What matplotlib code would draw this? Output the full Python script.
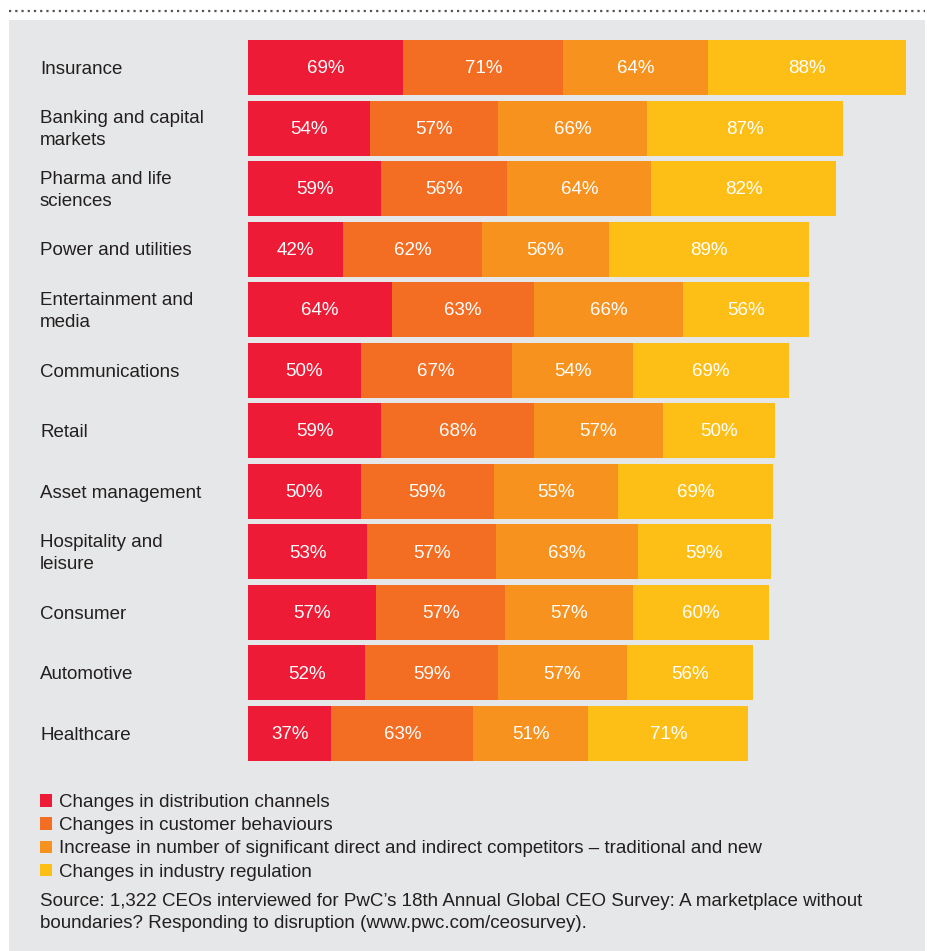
import numpy as np
import matplotlib.pyplot as plt
from matplotlib import transforms
from matplotlib.lines import Line2D
from matplotlib.patches import Rectangle

plt.rcParams['font.family'] = ['Liberation Sans', 'DejaVu Sans']

industries = ["Insurance", "Banking and capital\nmarkets", "Pharma and life\nsciences",
              "Power and utilities", "Entertainment and\nmedia", "Communications",
              "Retail", "Asset management", "Hospitality and\nleisure", "Consumer",
              "Automotive", "Healthcare"]
distribution = [69, 54, 59, 42, 64, 50, 59, 50, 53, 57, 52, 37]
customer = [71, 57, 56, 62, 63, 67, 68, 59, 57, 57, 59, 63]
competitors = [64, 66, 64, 56, 66, 54, 57, 55, 63, 57, 57, 51]
regulation = [88, 87, 82, 89, 56, 69, 50, 69, 59, 60, 56, 71]

series_names = ["Changes in distribution channels",
                "Changes in customer behaviours",
                "Increase in number of significant direct and indirect competitors \u2013 traditional and new",
                "Changes in industry regulation"]
colors = ["#ED1B35", "#F36E23", "#F7921E", "#FDBE15"]

W, H = 927, 951
FS = 13.5
fig = plt.figure(figsize=(W / 100, H / 100), dpi=100)
fig.patch.set_facecolor("white")

# grey panel and dotted rule on top
fig.patches.append(Rectangle((9 / W, 0), 916 / W, 1 - 20 / H, transform=fig.transFigure,
                             facecolor="#E6E7E8", edgecolor="none", zorder=-5))
fig.add_artist(Line2D([9 / W, 925 / W], [1 - 11 / H, 1 - 11 / H], transform=fig.transFigure,
                      color="#555555", lw=1.6, linestyle=(0, (1, 1.8))))

data = np.array([distribution, customer, competitors, regulation])
totals = data.sum(axis=0)
n = len(industries)

top_px, bot_px = 37.2, 763.8
ax = fig.add_axes([248 / W, 1 - bot_px / H, 658 / W, (bot_px - top_px) / H])
ax.set_facecolor("none")
y = np.arange(n)
left = np.zeros(n)
bars = []
for vals, col, name in zip(data, colors, series_names):
    b = ax.barh(y, vals, left=left, height=0.908, color=col, label=name, edgecolor="none")
    bars.append(b)
    for yi, v, l in zip(y, vals, left):
        ax.text(l + v / 2, yi + 0.02, f"{v}%", ha="center", va="center", color="white", fontsize=FS)
    left += vals

ax.set_xlim(0, totals.max())
ax.set_ylim(n - 0.5, -0.5)
ax.axis("off")

tr = transforms.blended_transform_factory(fig.transFigure, ax.transData)
for yi, name in zip(y, industries):
    ax.text(40 / W, yi + 0.03, name, transform=tr, ha="left", va="center", fontsize=FS,
            color="#231F20", linespacing=1.4)

fig.legend(handles=bars, labels=series_names, loc="upper left",
           bbox_to_anchor=(40 / W, 1 - 794 / H), frameon=False, fontsize=FS,
           handlelength=0.65, handleheight=0.65, handletextpad=0.38, labelspacing=0.33,
           borderaxespad=0, borderpad=0, labelcolor="#231F20")

fig.text(40 / W, 1 - 912.5 / H,
         "Source: 1,322 CEOs interviewed for PwC\u2019s 18th Annual Global CEO Survey: A marketplace without\n"
         "boundaries? Responding to disruption (www.pwc.com/ceosurvey).",
         ha="left", va="center", fontsize=FS, color="#231F20", linespacing=1.4)

fig.savefig("out.png", dpi=100, facecolor=fig.get_facecolor())
